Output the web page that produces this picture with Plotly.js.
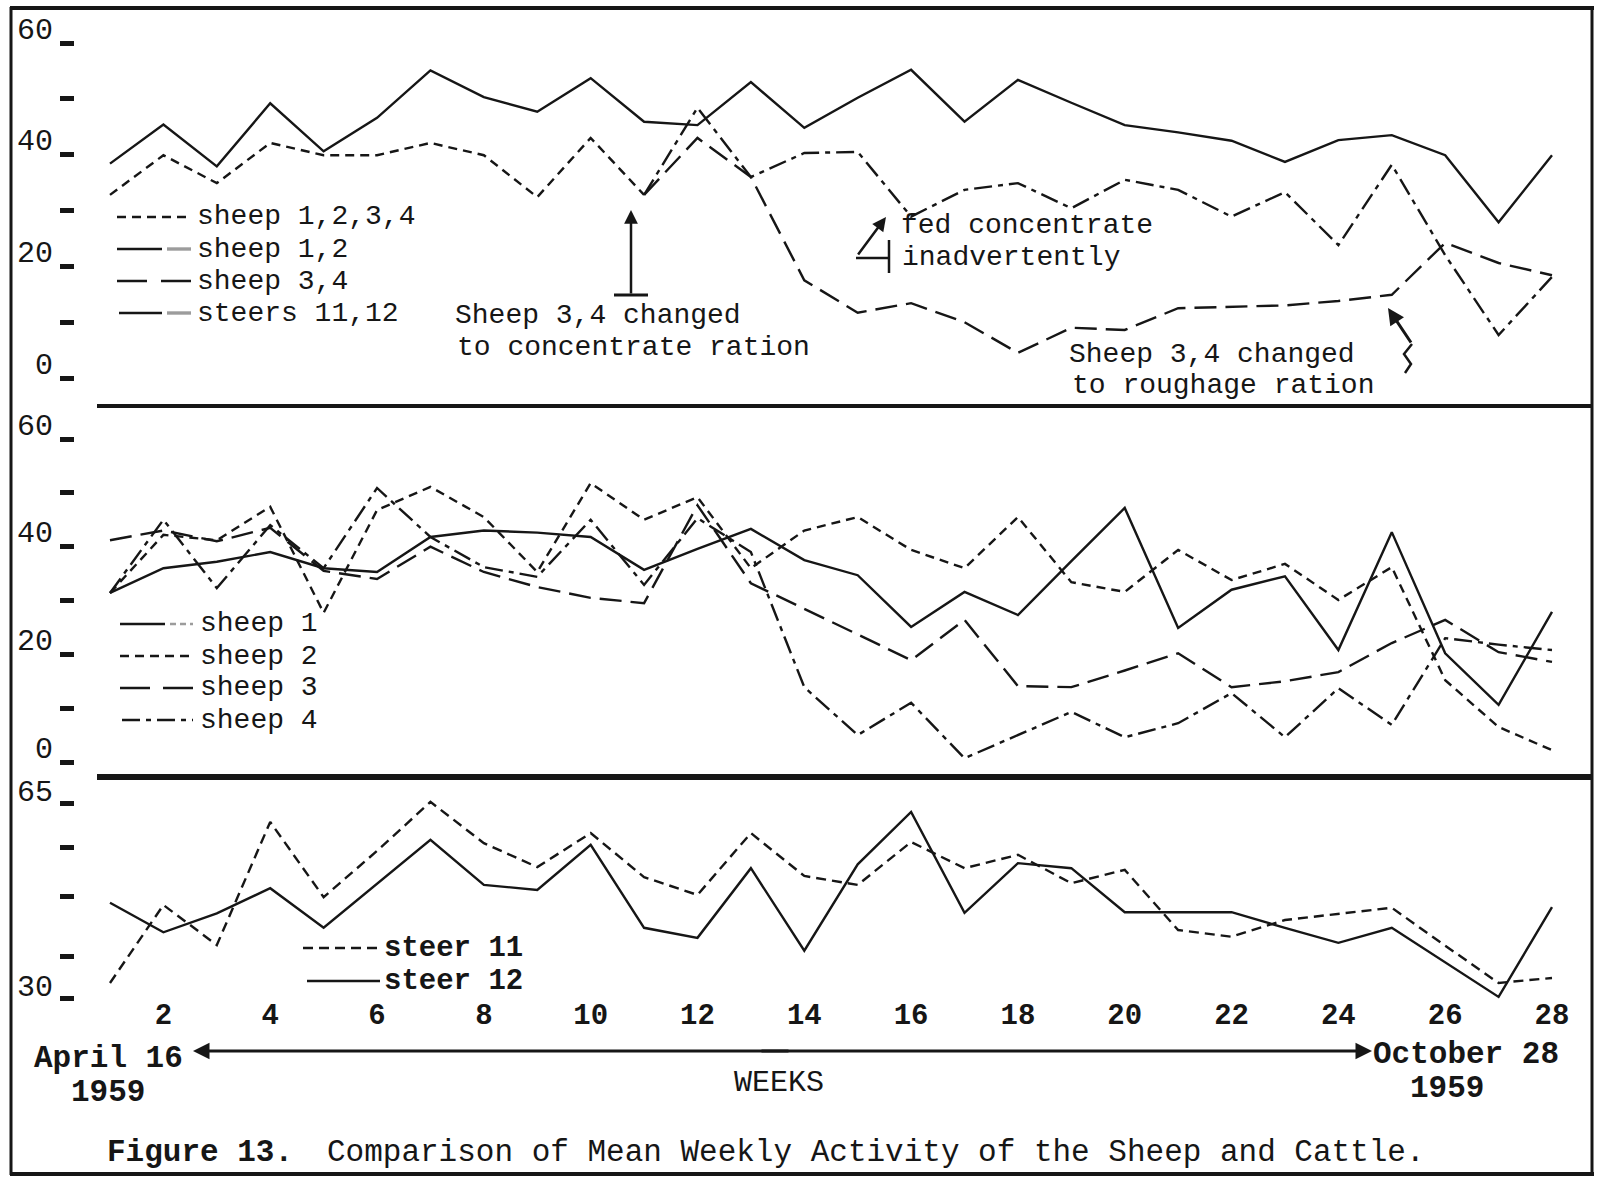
<!DOCTYPE html>
<html>
<head>
<meta charset="utf-8">
<script src="https://cdn.plot.ly/plotly-3.0.1.min.js"></script>
<style>
html,body{margin:0;padding:0;background:#fff;}
#chart{width:1602px;height:1184px;}
</style>
</head>
<body>
<div id="chart"></div>
<script>
// ---------------- DATA ----------------
const weeks = [1,2,3,4,5,6,7,8,9,10,11,12,13,14,15,16,17,18,19,20,21,22,23,24,25,26,27,28];

// Panel 1: group means
const sheep1234 = [32.8,39.9,34.9,42.1,39.9,39.9,42.1,39.9,32.4,43.0,32.8,null,null,null,null,null,null,null,null,null,null,null,null,null,null,null,null,null];
const sheep12   = [null,null,null,null,null,null,null,null,null,null,32.8,48.4,36.0,40.3,40.5,28.9,33.7,34.9,30.4,35.5,33.7,28.9,33.3,23.8,38.2,22.0,7.7,18.1];
const sheep34   = [null,null,null,null,null,null,null,null,null,null,32.8,43.0,36.0,17.5,11.7,13.4,10.0,4.5,9.0,8.6,12.5,12.7,13.0,13.8,14.9,24.2,20.6,18.4];
const steers1112 = [38.4,45.4,37.9,49.2,40.6,46.6,55.1,50.3,47.7,53.7,45.9,45.3,53.0,44.8,50.2,55.2,45.9,53.4,49.3,45.3,44.0,42.5,38.7,42.6,43.5,39.9,27.9,39.9];

// Panel 2: individual sheep
const sheep1 = [31.4,36.0,37.2,39.0,36.0,35.3,41.8,43.0,42.6,41.8,35.7,39.6,43.3,37.5,34.7,25.1,31.6,27.3,37.3,47.2,24.9,32.0,34.5,20.8,42.7,20.2,10.6,27.9];
const sheep2 = [31.4,42.2,41.2,47.4,27.7,46.8,51.1,45.5,35.3,51.8,45.0,49.2,36.0,43.0,45.5,39.4,36.0,45.5,33.4,31.6,39.4,33.8,36.8,30.1,36.2,15.2,6.5,2.2];
const sheep3 = [41.2,43.0,41.0,43.5,35.5,34.0,40.0,35.3,32.5,30.5,29.5,47.7,33.2,28.5,23.7,18.9,26.4,14.1,13.9,17.0,20.2,13.9,15.0,16.7,22.1,26.4,20.4,18.6];
const sheep4 = [31.4,45.0,32.3,44.0,36.0,50.9,41.8,36.2,34.4,45.0,32.9,45.3,39.0,13.9,5.0,11.0,0.7,5.0,9.3,4.6,7.2,12.8,4.6,13.7,6.9,23.0,21.8,20.8];

// Panel 3: individual steers
const steer11 = [32.7,46.7,39.5,61.6,48.1,56.4,65.2,57.8,53.5,59.6,51.7,48.5,59.6,51.9,50.3,58.0,53.3,55.7,50.6,53.0,42.2,41.0,44.0,45.1,46.2,39.4,32.7,33.6];
const steer12 = [47.1,41.8,45.2,49.7,42.6,50.5,58.4,50.3,49.4,57.5,42.6,40.8,53.3,38.5,54.0,63.4,45.3,54.2,53.3,45.4,45.4,45.4,42.6,39.9,42.6,36.4,30.2,46.3];

// Tick labels
const weekTickVals = [2,4,6,8,10,12,14,16,18,20,22,24,26,28];
const weekTickText = ["2","4","6","8","10","12","14","16","18","20","22","24","26","28"];
const sheepTickVals = [0,10,20,30,40,50,60];
const sheepTickText = ["0","","20","","40","","60"];
const steerTickVals = [30,37.4,48.3,57.1,65];
const steerTickText = ["30","","","","65"];

// Series names
const panel1Names = ["sheep 1,2,3,4","sheep 1,2","sheep 3,4","steers 11,12"];
const panel2Names = ["sheep 1","sheep 2","sheep 3","sheep 4"];
const panel3Names = ["steer 11","steer 12"];

// ---------------- LAYOUT / STYLE ----------------
const W = 1602, H = 1184;
const px = x => x / W;
const py = y => 1 - y / H;
const INK = '#161616';
const GREY = '#9c9c9c';
const FONT = 'Liberation Mono, DejaVu Sans Mono, monospace';
const LW = 2.4;
const STACK = 28;   // font size for tightly stacked lines of typed text

const DASH = {
  solid: 'solid',
  short: '9px,6px',
  long: '22px,9px',
  dashdot: '18px,6px,5px,6px',
  steer: '10px,6px'
};

// x mapping: week 1 at 110px, week 28 at 1552px; plot area 75..1593px
const pxPerWeek = (1552 - 110) / 27;
const xRange = [1 - (110 - 75) / pxPerWeek, 28 + (1593 - 1552) / pxPerWeek];

// y mappings from tick dashes
function yAxisFrom(vTop, pTop, vBot, pBot, areaTop, areaBot) {
  const k = (pBot - pTop) / (vTop - vBot);
  return {
    range: [vBot - (areaBot - pBot) / k, vTop + (pTop - areaTop) / k],
    domain: [1 - areaBot / H, 1 - areaTop / H]
  };
}
const Y1 = yAxisFrom(60, 43, 0, 378, 12, 405);
const Y2 = yAxisFrom(60, 439, 0, 762, 409, 773);
const Y3 = yAxisFrom(65, 803, 30, 998, 779, 1000);

function line(y, yaxis, name, dash) {
  return {
    x: weeks, y: y, xaxis: 'x', yaxis: yaxis, name: name,
    type: 'scatter', mode: 'lines', connectgaps: false,
    line: {color: INK, width: LW, dash: dash},
    hoverinfo: 'skip', showlegend: false
  };
}

const traces = [
  line(sheep1234, 'y', panel1Names[0], DASH.short),
  line(sheep12, 'y', panel1Names[1], DASH.dashdot),
  line(sheep34, 'y', panel1Names[2], DASH.long),
  line(steers1112, 'y', panel1Names[3], DASH.solid),
  line(sheep1, 'y2', panel2Names[0], DASH.solid),
  line(sheep2, 'y2', panel2Names[1], DASH.short),
  line(sheep3, 'y2', panel2Names[2], DASH.long),
  line(sheep4, 'y2', panel2Names[3], DASH.dashdot),
  line(steer11, 'y3', panel3Names[0], DASH.steer),
  line(steer12, 'y3', panel3Names[1], DASH.solid)
];

function yaxisDef(Y, vals, text, shift) {
  return {
    domain: Y.domain, range: Y.range, anchor: 'x',
    showgrid: false, zeroline: false, showline: false,
    ticks: 'outside', ticklen: 14, tickwidth: 5, tickcolor: INK,
    tickvals: vals, ticktext: text,
    ticklabelshift: shift, ticklabelstandoff: 1,
    tickfont: {family: FONT, size: 30, color: INK},
    fixedrange: true
  };
}

// ---- shapes: frame, separators, legend samples, annotation marks ----
function hl(x0, x1, y, w, color, dash) {
  return {type: 'line', xref: 'paper', yref: 'paper', x0: px(x0), x1: px(x1), y0: py(y), y1: py(y),
          line: {width: w, color: color || INK, dash: dash || 'solid'}};
}
function vl(x, y0, y1, w, color) {
  return {type: 'line', xref: 'paper', yref: 'paper', x0: px(x), x1: px(x), y0: py(y0), y1: py(y1),
          line: {width: w, color: color || INK}};
}

const shapes = [
  // frame
  vl(11, 7, 1175, 3), hl(10, 1594, 8, 4), vl(1592, 7, 1175, 3), hl(10, 1594, 1174, 4),
  // panel separators
  hl(97, 1593, 406, 4), hl(97, 1593, 777, 6),
  // panel 1 legend samples
  hl(117, 191, 217, LW, INK, DASH.short),
  hl(117, 162, 249, LW), hl(167, 191, 249, LW + 1, GREY),
  hl(117, 191, 281, LW, INK, '30px,14px'),
  hl(119, 162, 313, LW), hl(167, 191, 313, LW + 1, GREY),
  // panel 2 legend samples
  hl(120, 165, 624, LW), hl(170, 193, 624, LW, GREY, '6px,4px'),
  hl(120, 193, 656, LW, INK, DASH.short),
  hl(120, 193, 688, LW, INK, '30px,13px'),
  hl(122, 193, 720, LW, INK, DASH.dashdot),
  // panel 3 legend samples
  hl(303, 378, 948, LW, INK, DASH.steer),
  hl(307, 380, 981, LW),
  // "concentrate ration" arrow foot
  hl(614, 648, 295, 3),
  // "fed concentrate" bracket
  hl(856, 888, 258, 2.5), vl(889, 240, 273, 2.5),
  // "roughage ration" curl
  {type: 'path', xref: 'paper', yref: 'paper',
   path: 'M ' + px(1412) + ',' + py(344) + ' L ' + px(1404) + ',' + py(354) + ' L ' + px(1411) + ',' + py(364) + ' L ' + px(1405) + ',' + py(373),
   line: {width: 2.5, color: INK}}
];

function txt(text, x, y, opts) {
  opts = opts || {};
  return {
    text: text, xref: 'paper', yref: 'paper', x: px(x), y: py(y),
    xanchor: opts.xanchor || 'left', yanchor: 'middle', showarrow: false, borderpad: 0,
    font: {family: FONT, size: opts.size || 31, color: INK, weight: opts.weight || 'normal'}
  };
}
function arrow(hx, hy, tx, ty, w) {
  return {
    text: '', xref: 'paper', yref: 'paper', x: px(hx), y: py(hy),
    ax: tx - hx, ay: ty - hy, showarrow: true, arrowhead: 2, arrowsize: 1.1,
    arrowwidth: w || 2.5, arrowcolor: INK, standoff: 0
  };
}
const S = {size: STACK};

const annotations = [
  // panel 1 legend
  txt(panel1Names[0], 196, 217, S), txt(panel1Names[1], 196, 249, S),
  txt(panel1Names[2], 196, 281, S), txt(panel1Names[3], 196, 313, S),
  // panel 2 legend
  txt(panel2Names[0], 199, 624, S), txt(panel2Names[1], 199, 656, S),
  txt(panel2Names[2], 199, 688, S), txt(panel2Names[3], 199, 720, S),
  // panel 3 legend
  txt(panel3Names[0], 383, 948, {weight: 'bold', size: 29}), txt(panel3Names[1], 383, 981, {weight: 'bold', size: 29}),
  // notes panel 1
  txt('Sheep 3,4 changed', 454, 315, S), txt('to concentrate ration', 456, 347, S),
  arrow(631, 210, 631, 295, 2.5),
  txt('fed concentrate', 900, 225, S), txt('inadvertently', 901, 258, S),
  arrow(886, 217, 857, 256, 2.5),
  txt('Sheep 3,4 changed', 1068, 354, S), txt('to roughage ration', 1071, 386, S),
  arrow(1388, 308, 1412, 344, 3),
  // time span under the weeks axis
  arrow(193, 1051, 790, 1051, 3), arrow(1372, 1051, 760, 1051, 3),
  txt('April 16', 33, 1058, {weight: 'bold'}), txt('1959', 70, 1092, {weight: 'bold'}),
  txt('October 28', 1372, 1054, {weight: 'bold'}), txt('1959', 1409, 1088, {weight: 'bold'}),
  txt('WEEKS', 733, 1083, {size: 30}),
  // caption
  txt('Figure 13.', 106, 1152, {weight: 'bold'}),
  txt('Comparison of Mean Weekly Activity of the Sheep and Cattle.', 326, 1152)
];

const layout = {
  width: W, height: H,
  margin: {l: 0, r: 0, t: 0, b: 0, pad: 0},
  paper_bgcolor: '#ffffff', plot_bgcolor: 'rgba(0,0,0,0)',
  showlegend: false,
  xaxis: {
    domain: [75 / W, 1593 / W], range: xRange, anchor: 'y3',
    showgrid: false, zeroline: false, showline: false, ticks: '',
    tickvals: weekTickVals, ticktext: weekTickText,
    tickfont: {family: FONT, size: 29, color: INK, weight: 'bold'},
    ticklabelstandoff: -6,
    fixedrange: true
  },
  yaxis: yaxisDef(Y1, sheepTickVals, sheepTickText, -15),
  yaxis2: yaxisDef(Y2, sheepTickVals, sheepTickText, -15),
  yaxis3: yaxisDef(Y3, steerTickVals, steerTickText, -13),
  shapes: shapes,
  annotations: annotations
};

Plotly.newPlot('chart', traces, layout, {staticPlot: true, displayModeBar: false});
</script>
</body>
</html>
